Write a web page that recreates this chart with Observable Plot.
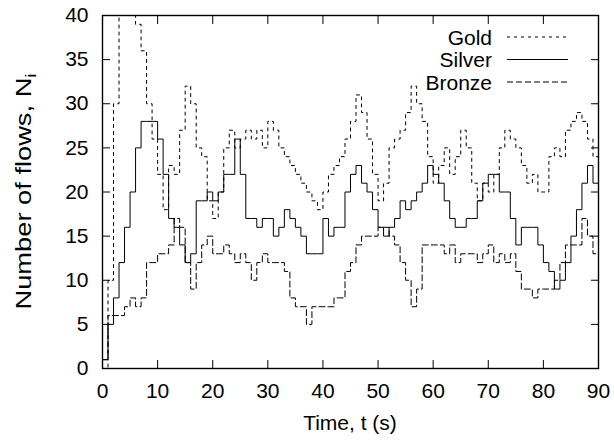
<!DOCTYPE html>
<html>
<head>
<meta charset="utf-8">
<script src="https://cdn.jsdelivr.net/npm/d3@7"></script>
<script src="https://cdn.jsdelivr.net/npm/@observablehq/plot@0.6"></script>
<style>
  html, body { margin: 0; padding: 0; background: #fff; }
  svg { display: block; }
</style>
</head>
<body>
<div id="chart"></div>
<script>
// Time in seconds (one sample per second)
const time = d3.range(0, 91);

const gold = [0,10,30,40,40,40,39,36,30,26,22,18,23,22,27,32,30,25,24,19,
  17,20,25,27,25,26,27,26,27,25,28,27,25,24,23,22,21,20,19,18,
  20,22,23,24,26,28,31,29,26,22,19,21,25,26,27,29,32,30,28,24,
  21,23,25,22,24,27,25,21,19,21,20,22,25,27,26,25,23,21,22,20,
  20,24,25,24,27,28,29,28,26,24,22];

const silver = [1,5,8,12,16,20,25,28,28,28,26,22,17,16,14,12,13,19,19,20,
  19,20,22,22,26,22,17,17,16,17,17,15,16,18,17,16,15,13,13,13,
  17,15,16,16,20,22,23,21,20,18,16,15,16,17,19,18,19,20,21,23,
  22,21,19,17,16,16,17,17,19,21,22,22,20,20,17,14,16,16,16,14,
  12,11,9,10,12,15,18,21,23,21,20];

const bronze = [1,6,6,6,7,8,7,8,12,12,13,13,14,17,16,12,9,12,14,15,
  13,13,14,13,12,13,12,10,12,13,12,12,12,11,8,7,7,5,7,7,
  7,7,8,8,11,12,14,15,15,15,16,16,15,14,12,10,7,9,14,14,
  14,14,13,14,12,13,13,13,12,13,14,12,13,12,13,11,9,9,8,9,
  9,9,10,12,14,14,14,17,15,13,12];

const seriesNames = ["Gold", "Silver", "Bronze"];
const seriesValues = [gold, silver, bronze];
const dashes = ["3,4", null, "6,3"];

const xTicks = d3.range(0, 91, 10);
const yTicks = d3.range(0, 41, 5);

const FONT = "'Liberation Sans', Arial, Helvetica, sans-serif";
const W = 614, H = 441;
const M = {left: 102, right: 16, top: 15, bottom: 73};

const marks = [];
seriesNames.forEach((name, k) => {
  const rows = time.map((t, i) => ({t, n: seriesValues[k][i]}));
  marks.push(Plot.line(rows, {
    x: "t", y: "n", curve: "step-after",
    stroke: "black", strokeWidth: 1,
    strokeDasharray: dashes[k] || undefined
  }));
});

marks.push(
  Plot.axisX(xTicks, {anchor: "bottom", tickSize: -8, tickPadding: 23, label: null, fontSize: 21}),
  Plot.axisX(xTicks, {anchor: "top", tickSize: -8, tickFormat: () => "", label: null}),
  Plot.axisY(yTicks, {anchor: "left", tickSize: -8, tickPadding: 22, label: null, fontSize: 21}),
  Plot.axisY(yTicks, {anchor: "right", tickSize: -8, tickFormat: () => "", label: null}),
  Plot.frame({stroke: "black", strokeWidth: 1.4})
);

const chart = Plot.plot({
  width: W, height: H,
  marginLeft: M.left, marginRight: M.right, marginTop: M.top, marginBottom: M.bottom,
  style: {fontFamily: FONT, fontSize: "21px", color: "black", background: "white"},
  x: {domain: [0, 90]},
  y: {domain: [0, 40]},
  marks
});

document.getElementById("chart").appendChild(chart);

const svg = d3.select(chart);

// Axis titles
svg.append("text")
  .attr("x", M.left + (W - M.left - M.right) / 2)
  .attr("y", 430)
  .attr("text-anchor", "middle")
  .attr("font-family", FONT).attr("font-size", 21).attr("fill", "black")
  .text("Time, t (s)");

const yl = svg.append("text")
  .attr("transform", `translate(31, ${M.top + (H - M.top - M.bottom) / 2}) rotate(-90)`)
  .attr("text-anchor", "middle")
  .attr("font-family", FONT).attr("font-size", 22).attr("fill", "black")
  .attr("textLength", 236).attr("lengthAdjust", "spacingAndGlyphs");
yl.append("tspan").text("Number of flows, N");
yl.append("tspan").attr("font-size", 15).attr("dy", 5).text("i");

// Legend
const lg = svg.append("g").attr("font-family", FONT).attr("font-size", 21);
seriesNames.forEach((name, k) => {
  const cy = 37 + k * 22.5;
  lg.append("text").attr("x", 492).attr("y", cy).attr("dy", "0.36em")
    .attr("text-anchor", "end").attr("fill", "black").text(name);
  lg.append("line").attr("x1", 507).attr("x2", 568).attr("y1", cy).attr("y2", cy)
    .attr("stroke", "black").attr("stroke-width", 1)
    .attr("stroke-dasharray", dashes[k] || null);
});
</script>
</body>
</html>
